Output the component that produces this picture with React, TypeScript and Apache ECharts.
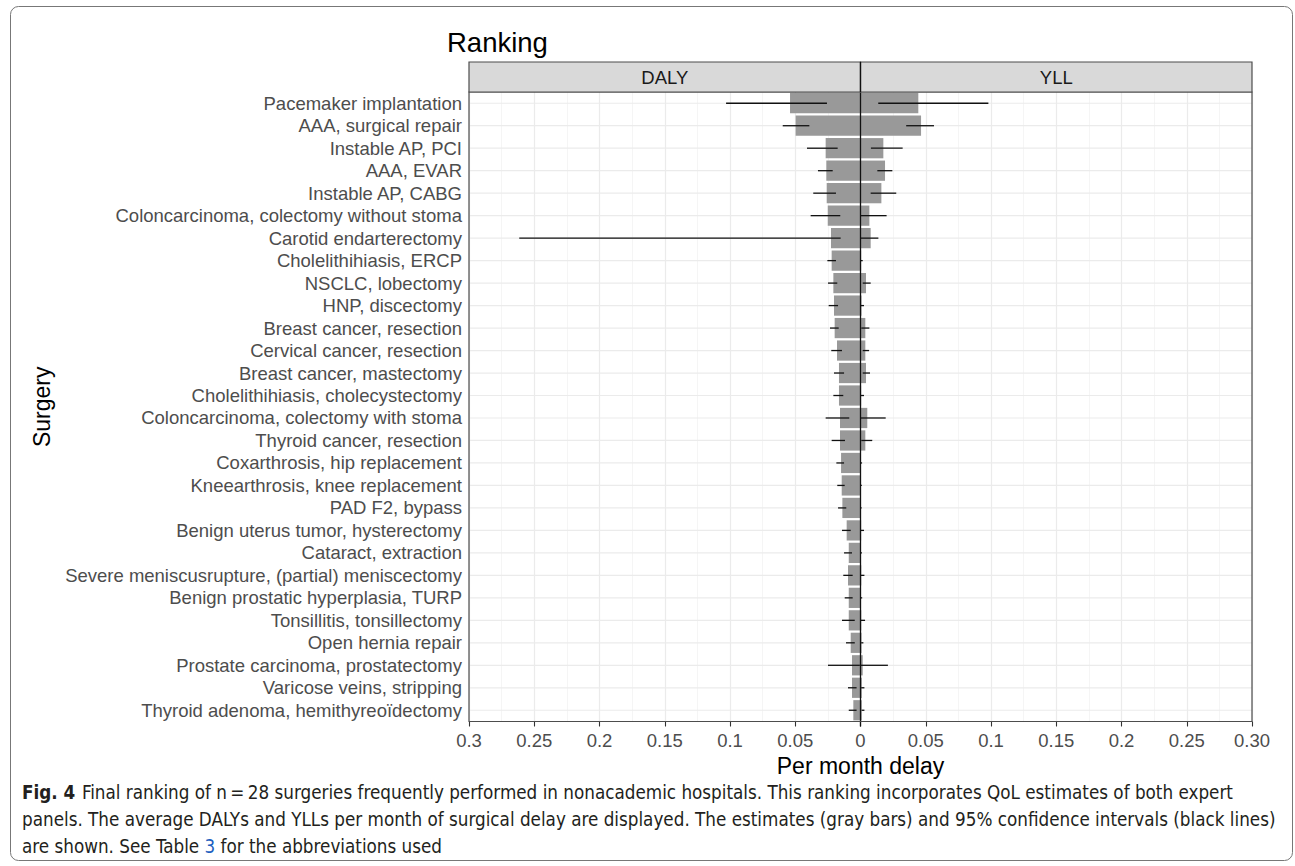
import React, { useEffect, useRef } from "react";
import * as echarts from "echarts";

const categories = [
  "Pacemaker implantation",
  "AAA, surgical repair",
  "Instable AP, PCI",
  "AAA, EVAR",
  "Instable AP, CABG",
  "Coloncarcinoma, colectomy without stoma",
  "Carotid endarterectomy",
  "Cholelithihiasis, ERCP",
  "NSCLC, lobectomy",
  "HNP, discectomy",
  "Breast cancer, resection",
  "Cervical cancer, resection",
  "Breast cancer, mastectomy",
  "Cholelithihiasis, cholecystectomy",
  "Coloncarcinoma, colectomy with stoma",
  "Thyroid cancer, resection",
  "Coxarthrosis, hip replacement",
  "Kneearthrosis, knee replacement",
  "PAD F2, bypass",
  "Benign uterus tumor, hysterectomy",
  "Cataract, extraction",
  "Severe meniscusrupture, (partial) meniscectomy",
  "Benign prostatic hyperplasia, TURP",
  "Tonsillitis, tonsillectomy",
  "Open hernia repair",
  "Prostate carcinoma, prostatectomy",
  "Varicose veins, stripping",
  "Thyroid adenoma, hemithyreoïdectomy",
];

// DALY per month delay (magnitudes, drawn to the left of 0)
const dalyMean = [
  0.054, 0.0497, 0.0267, 0.0262, 0.0259, 0.0251, 0.0226, 0.0221, 0.0208, 0.0203,
  0.0198, 0.018, 0.0165, 0.0165, 0.0157, 0.0157, 0.0149, 0.0144, 0.0139, 0.0106,
  0.009, 0.0096, 0.009, 0.009, 0.0075, 0.0065, 0.0065, 0.0055,
];
const dalyCiLow = [
  0.0257, 0.0392, 0.0175, 0.0213, 0.0188, 0.0155, 0.0152, 0.0188, 0.0178, 0.0172,
  0.0167, 0.0142, 0.0126, 0.0132, 0.0086, 0.0119, 0.0126, 0.0121, 0.0109, 0.0075,
  0.0065, 0.006, 0.006, 0.0044, 0.0044, 0.0005, 0.003, 0.003,
];
const dalyCiHigh = [
  0.103, 0.0596, 0.041, 0.0326, 0.0362, 0.0382, 0.2615, 0.0254, 0.0249, 0.0244,
  0.0234, 0.0224, 0.0203, 0.0208, 0.0267, 0.0221, 0.0185, 0.0178, 0.0172, 0.0142,
  0.0126, 0.0132, 0.0121, 0.0142, 0.0111, 0.0249, 0.0096, 0.009,
];

// YLL per month delay (drawn to the right of 0)
const yllMean = [
  0.0443, 0.0464, 0.0175, 0.0188, 0.016, 0.0068, 0.0078, 0.0005, 0.0042, 0.0008,
  0.0037, 0.0037, 0.0042, 0.0005, 0.0052, 0.0037, 0.0003, 0.0003, 0.0003, 0.0005,
  0.0003, 0.0006, 0.0004, 0.0006, 0.0008, 0.0017, 0.001, 0.001,
];
const yllCiLow = [
  0.0136, 0.035, 0.008, 0.0129, 0.0078, 0.0002, 0.0002, 0.0002, 0.0017, 0.0002,
  0.0006, 0.0017, 0.0017, 0.0002, 0.0002, 0.0006, 0.0002, 0.0001, 0.0001, 0.0002,
  0.0001, 0.0002, 0.0002, 0.0002, 0.0005, 0.0, 0.0005, 0.0008,
];
const yllCiHigh = [
  0.098, 0.0563, 0.0323, 0.0244, 0.0274, 0.02, 0.0137, 0.0017, 0.0078, 0.0027,
  0.0068, 0.0066, 0.0073, 0.0027, 0.0193, 0.009, 0.0012, 0.001, 0.0009, 0.0027,
  0.0011, 0.003, 0.0013, 0.0035, 0.0022, 0.021, 0.003, 0.003,
];

const xTickLabels = [
  "0.3", "0.25", "0.2", "0.15", "0.1", "0.05", "0",
  "0.05", "0.1", "0.15", "0.2", "0.25", "0.30",
];

const facetLabels = ["DALY", "YLL"];

const captionLines = [
  "Final ranking of n\u2009=\u200928 surgeries frequently performed in nonacademic hospitals. This ranking incorporates QoL estimates of both expert",
  "panels. The average DALYs and YLLs per month of surgical delay are displayed. The estimates (gray bars) and 95% confidence intervals (black lines)",
  "are shown. See Table ",
];

const FONT = "'Liberation Sans', Arial, Helvetica, sans-serif";
const CAPFONT = "'Liberation Sans Narrow', 'DejaVu Sans Condensed', 'Liberation Sans', sans-serif";
const CAPSIZE = 18.7;

export default function App() {
  const ref = useRef<HTMLDivElement>(null);

  useEffect(() => {
    if (!ref.current) return;
    const chart = echarts.init(ref.current, undefined, { renderer: "svg" });

    const gridLeft = 469;
    const gridRight = 1252;
    const gridTop = 92;
    const gridBottom = 721.5;
    const zeroX = (gridLeft + gridRight) / 2;

    const errData: number[][] = [];
    categories.forEach((_, i) => {
      errData.push([-dalyCiHigh[i], -dalyCiLow[i], i]);
      errData.push([yllCiLow[i], yllCiHigh[i], i]);
    });

    const option: any = {
      animation: false,
      backgroundColor: "#ffffff",
      textStyle: { fontFamily: FONT },
      grid: {
        left: gridLeft,
        right: 1295 - gridRight,
        top: gridTop,
        bottom: 866 - gridBottom,
        containLabel: false,
      },
      xAxis: {
        type: "value",
        min: -0.3,
        max: 0.3,
        interval: 0.05,
        name: "Per month delay",
        nameLocation: "middle",
        nameGap: 28,
        nameTextStyle: { fontSize: 23, color: "#000", fontFamily: FONT },
        axisLine: { show: false },
        axisTick: { show: true, length: 5, lineStyle: { color: "#333", width: 1.1 } },
        axisLabel: {
          fontSize: 18.5,
          color: "#4d4d4d",
          margin: 9,
          fontFamily: FONT,
          formatter: (v: number) => xTickLabels[Math.round((v + 0.3) / 0.05)],
        },
        splitLine: { show: true, lineStyle: { color: "#ebebeb", width: 1.2 } },
        minorTick: { show: false, splitNumber: 2 },
        minorSplitLine: { show: true, lineStyle: { color: "#f2f2f2", width: 0.8 } },
      },
      yAxis: {
        type: "category",
        data: categories,
        inverse: true,
        name: "Surgery",
        nameLocation: "middle",
        nameRotate: 90,
        nameGap: 416,
        nameTextStyle: { fontSize: 23, color: "#000", fontFamily: FONT },
        axisLine: { show: false },
        axisTick: {
          show: true,
          interval: 0,
          alignWithLabel: true,
          length: 5,
          lineStyle: { color: "#333", width: 1.1 },
        },
        axisLabel: { interval: 0, fontSize: 18.5, color: "#4d4d4d", margin: 7, fontFamily: FONT },
        splitLine: { show: false },
      },
      series: [
        {
          type: "custom",
          name: "hgrid",
          z: 1,
          silent: true,
          data: categories.map((_, i) => [0, i]),
          encode: { x: 0, y: 1 },
          renderItem: (params: any, api: any) => {
            const p = api.coord([0, api.value(1)]);
            const cs = params.coordSys;
            return {
              type: "line",
              shape: { x1: cs.x, y1: p[1], x2: cs.x + cs.width, y2: p[1] },
              style: { stroke: "#ebebeb", lineWidth: 1.2 },
            };
          },
        },
        {
          type: "bar",
          name: facetLabels[0],
          stack: "total",
          z: 2,
          barWidth: "90%",
          data: dalyMean.map((v) => -v),
          itemStyle: { color: "#999999" },
          silent: true,
        },
        {
          type: "bar",
          name: facetLabels[1],
          stack: "total",
          z: 2,
          barWidth: "90%",
          data: yllMean,
          itemStyle: { color: "#999999" },
          silent: true,
        },
        {
          type: "custom",
          name: "zero",
          z: 4,
          silent: true,
          data: [[0, 0]],
          encode: { x: 0, y: 1 },
          renderItem: (params: any, api: any) => {
            const p = api.coord([0, 0]);
            const cs = params.coordSys;
            return {
              type: "line",
              shape: { x1: p[0], y1: cs.y, x2: p[0], y2: cs.y + cs.height + 5 },
              style: { stroke: "#111", lineWidth: 1.3 },
            };
          },
        },
        {
          type: "custom",
          name: "ci",
          z: 5,
          silent: true,
          data: errData,
          encode: { x: [0, 1], y: 2 },
          renderItem: (params: any, api: any) => {
            const a = api.coord([api.value(0), api.value(2)]);
            const b = api.coord([api.value(1), api.value(2)]);
            return {
              type: "line",
              shape: { x1: a[0], y1: a[1], x2: b[0], y2: b[1] },
              style: { stroke: "#111", lineWidth: 1.3 },
            };
          },
        },
      ],
      graphic: [
        {
          type: "rect",
          z: 50,
          shape: { x: gridLeft, y: gridTop, width: gridRight - gridLeft, height: gridBottom - gridTop },
          style: { fill: "none", stroke: "#4d4d4d", lineWidth: 1.2 },
          silent: true,
        },
        {
          type: "rect",
          z: 50,
          shape: { x: gridLeft, y: 62, width: zeroX - gridLeft, height: gridTop - 62 },
          style: { fill: "#d9d9d9", stroke: "#4d4d4d", lineWidth: 1.2 },
          silent: true,
        },
        {
          type: "rect",
          z: 50,
          shape: { x: zeroX, y: 62, width: gridRight - zeroX, height: gridTop - 62 },
          style: { fill: "#d9d9d9", stroke: "#4d4d4d", lineWidth: 1.2 },
          silent: true,
        },
        {
          type: "line",
          z: 51,
          shape: { x1: zeroX, y1: 62, x2: zeroX, y2: gridTop },
          style: { stroke: "#111", lineWidth: 1.3 },
          silent: true,
        },
        {
          type: "text",
          z: 52,
          x: (gridLeft + zeroX) / 2,
          y: 77,
          style: {
            text: facetLabels[0],
            fontSize: 18.5,
            fontFamily: FONT,
            fill: "#1a1a1a",
            align: "center",
            verticalAlign: "middle",
          },
        },
        {
          type: "text",
          z: 52,
          x: (zeroX + gridRight) / 2,
          y: 77,
          style: {
            text: facetLabels[1],
            fontSize: 18.5,
            fontFamily: FONT,
            fill: "#1a1a1a",
            align: "center",
            verticalAlign: "middle",
          },
        },
        {
          type: "text",
          z: 52,
          x: 447,
          y: 42,
          style: {
            text: "Ranking",
            fontSize: 27.5,
            fontFamily: FONT,
            fill: "#000",
            align: "left",
            verticalAlign: "middle",
          },
        },
        {
          type: "rect",
          z: 40,
          shape: { x: 10.5, y: 6.5, width: 1282, height: 854, r: 8 },
          style: { fill: "none", stroke: "#777", lineWidth: 1 },
          silent: true,
        },
        {
          type: "text",
          z: 52,
          x: 22,
          y: 792,
          style: {
            text: "{b|Fig. 4}  {n|" + captionLines[0] + "}",
            verticalAlign: "middle",
            rich: {
              b: { fontSize: CAPSIZE, fontWeight: "bold", fontFamily: CAPFONT, fill: "#231f20" },
              n: { fontSize: CAPSIZE, fontFamily: CAPFONT, fill: "#231f20" },
            },
          },
        },
        {
          type: "text",
          z: 52,
          x: 22,
          y: 819,
          style: {
            text: captionLines[1],
            fontSize: CAPSIZE,
            fontFamily: CAPFONT,
            fill: "#231f20",
            verticalAlign: "middle",
          },
        },
        {
          type: "text",
          z: 52,
          x: 22,
          y: 846,
          style: {
            text: "{n|" + captionLines[2] + "}{l|3}{n| for the abbreviations used}",
            verticalAlign: "middle",
            rich: {
              n: { fontSize: CAPSIZE, fontFamily: CAPFONT, fill: "#231f20" },
              l: { fontSize: CAPSIZE, fontFamily: CAPFONT, fill: "#1f5fbf" },
            },
          },
        },
      ],
    };

    chart.setOption(option);
    return () => {
      chart.dispose();
    };
  }, []);

  return (
    <div
      ref={ref}
      style={{ position: "fixed", left: 0, top: 0, width: 1295, height: 866, background: "#fff" }}
    />
  );
}
